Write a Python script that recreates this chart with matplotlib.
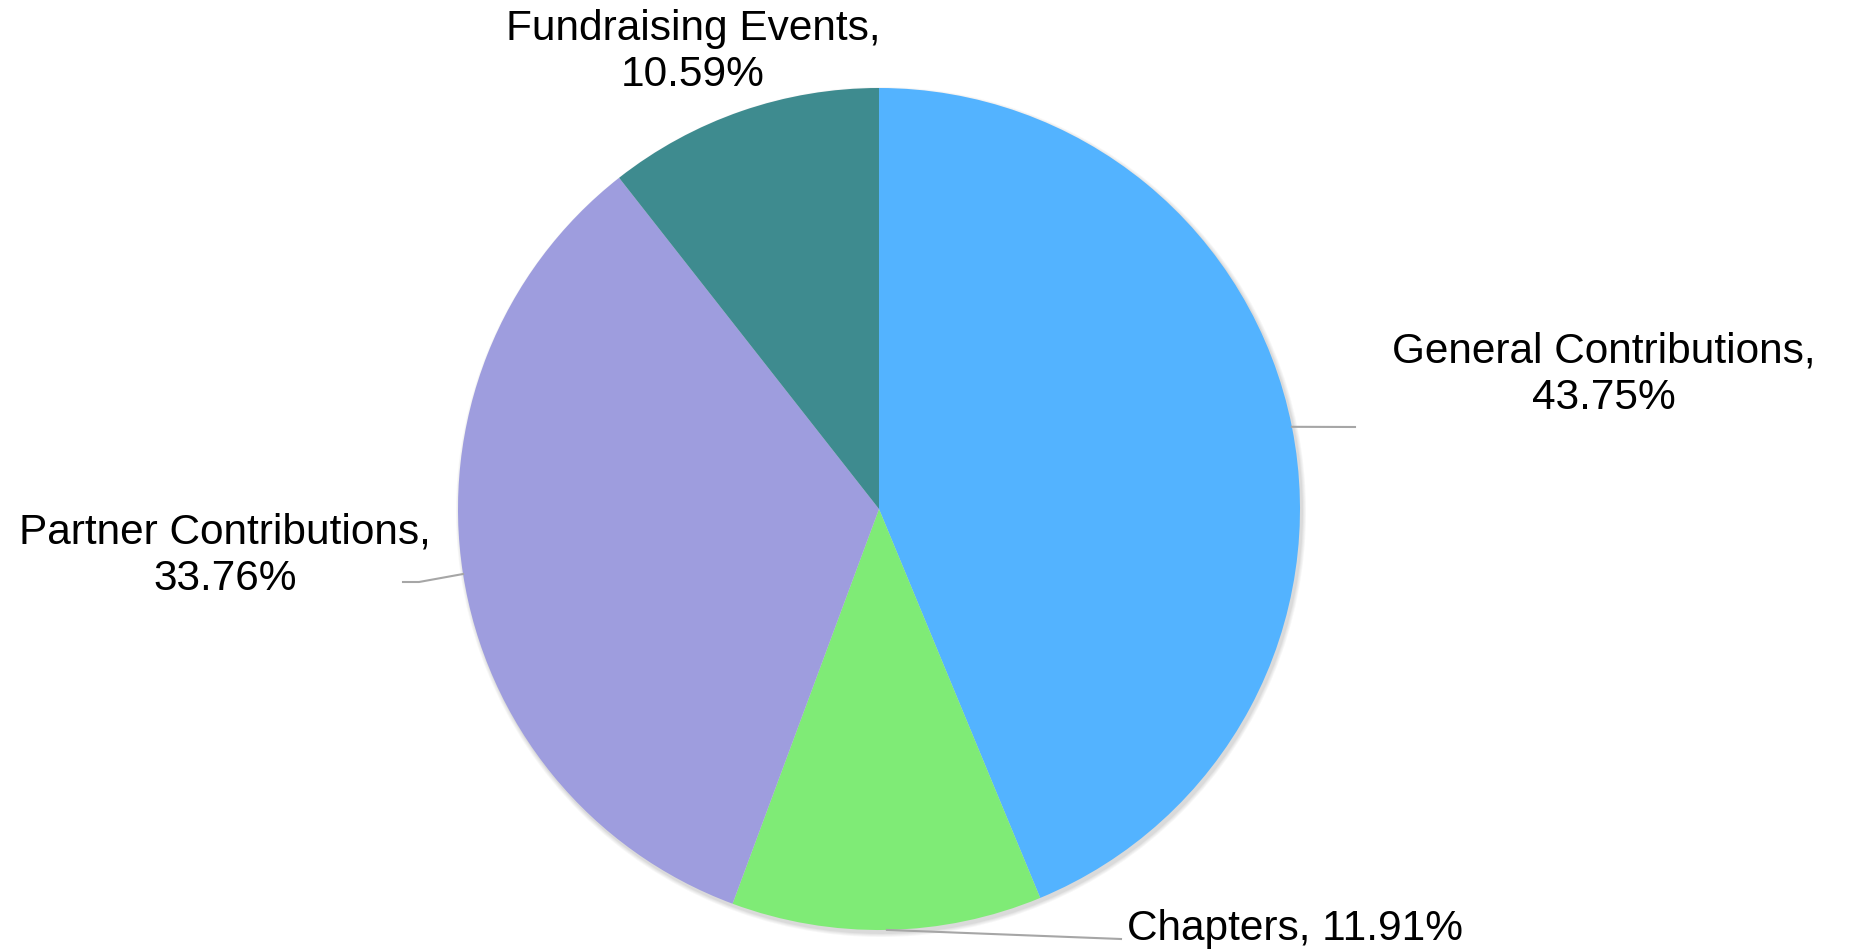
import numpy as np
import matplotlib
matplotlib.use("Agg")
import matplotlib.pyplot as plt
from matplotlib.patches import Circle

categories = ["General Contributions", "Chapters", "Partner Contributions", "Fundraising Events"]
shares = [43.75, 11.91, 33.76, 10.59]
colors = ["#53B3FF", "#7FEB76", "#9E9DDE", "#3E8B8F"]
label_texts = ["General Contributions,\n43.75%", "Chapters, 11.91%",
               "Partner Contributions,\n33.76%", "Fundraising Events,\n10.59%"]

W, H = 1850, 953
fig = plt.figure(figsize=(W / 100, H / 100), dpi=100)
ax = fig.add_axes([0, 0, 1, 1])

cx, cy, R = 879, H - 510, 421

# soft shadow
for i, a in enumerate([0.05, 0.05, 0.06, 0.08]):
    ax.add_patch(Circle((cx + 2, cy - 3), R + 4 - i, color="#606060", alpha=a, lw=0, zorder=0))

wedges, _ = ax.pie(shares, colors=colors, startangle=90, counterclock=False,
                   center=(cx, cy), radius=R, frame=True,
                   wedgeprops=dict(linewidth=0), normalize=True)
ax.set_xlim(0, W)
ax.set_ylim(0, H)
ax.set_aspect("equal")
ax.axis("off")

font = dict(family=["Liberation Sans", "DejaVu Sans"], fontsize=30.5, color="black")

# label placements (pixel coords from top) and leader line elbows
label_pos = [(1604, 375, "center"), (1127, 929, "left"), (225, 556, "center"), (693, 52, "center")]
elbows = [[(1355, 428)], [(1121, 940)], [(419, 583), (403, 583)], None]

for w, txt, (lx, ly, ha), el in zip(wedges, label_texts, label_pos, elbows):
    ang = np.deg2rad((w.theta1 + w.theta2) / 2)
    sx, sy = cx + R * np.cos(ang), cy + R * np.sin(ang)
    if el:
        xs = [sx] + [p[0] for p in el]
        ys = [sy] + [H - p[1] for p in el]
        ax.plot(xs, ys, color="#A6A6A6", lw=1.5, zorder=1)
    ax.text(lx, H - ly, txt, ha=ha, va="center", linespacing=1.2, **font)

fig.savefig("out.png", dpi=100)
